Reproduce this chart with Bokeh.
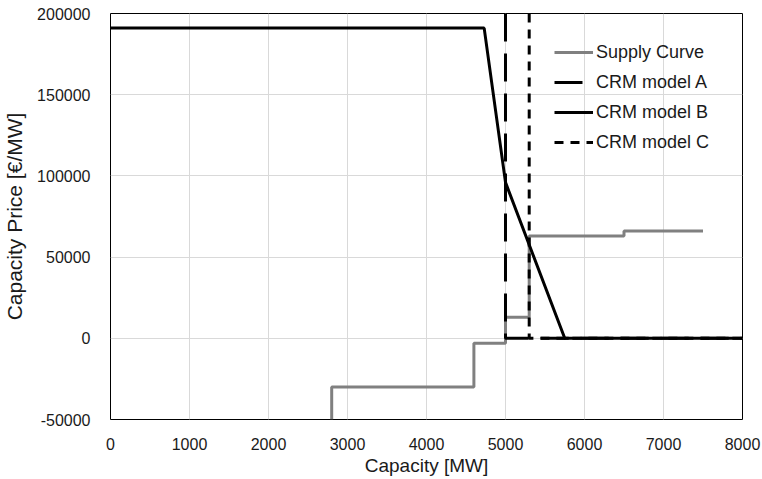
from bokeh.plotting import figure
from bokeh.models import Range1d, FixedTicker, NumeralTickFormatter, Legend, LegendItem
from bokeh.embed import file_html
from bokeh.resources import INLINE

# Supply curve breakpoints (capacity in MW, price in EUR/MW)
supply_x = [2800, 2800, 4600, 4600, 5000, 5000, 5300, 5300, 6500, 6500, 7500]
supply_y = [-50000, -30000, -30000, -3000, -3000, 13000, 13000, 63000, 63000, 66000, 66000]

# CRM demand curves
crm_a_x = [5000, 5000, 8000]
crm_a_y = [200000, 0, 0]

crm_b_x = [0, 4730, 5000, 5750, 8000]
crm_b_y = [191000, 191000, 96000, 0, 0]

crm_c_x = [5300, 5300, 8000]
crm_c_y = [200000, 0, 0]

x_ticks = [0, 1000, 2000, 3000, 4000, 5000, 6000, 7000, 8000]
y_ticks = [-50000, 0, 50000, 100000, 150000, 200000]

FONT = "Liberation Sans"
TEXT = "#1a1a1a"

p = figure(width=762, height=479, output_backend="svg", toolbar_location=None,
           x_range=Range1d(0, 8000), y_range=Range1d(-50000, 200000),
           min_border_left=110, min_border_right=20, min_border_top=13, min_border_bottom=60)

p.outline_line_color = "black"
p.outline_line_width = 1
p.background_fill_color = "white"
p.border_fill_color = "white"

for ax in (p.xaxis[0], p.yaxis[0]):
    ax.axis_line_color = None
    ax.major_tick_line_color = None
    ax.minor_tick_line_color = None
    ax.major_label_text_font = FONT
    ax.major_label_text_font_size = "16px"
    ax.major_label_text_color = TEXT
    ax.axis_label_text_font = FONT
    ax.axis_label_text_font_style = "normal"
    ax.axis_label_text_color = TEXT
    ax.formatter = NumeralTickFormatter(format="0")

p.xaxis.ticker = FixedTicker(ticks=x_ticks)
p.yaxis.ticker = FixedTicker(ticks=y_ticks)
p.xaxis.major_label_standoff = 12
p.yaxis.major_label_standoff = 14
p.xaxis.axis_label = "Capacity [MW]"
p.yaxis.axis_label = "Capacity Price [€/MW]"
p.xaxis.axis_label_text_font_size = "19px"
p.yaxis.axis_label_text_font_size = "21px"
p.xaxis.axis_label_standoff = 2
p.yaxis.axis_label_standoff = 8

p.xgrid.ticker = FixedTicker(ticks=x_ticks)
p.ygrid.ticker = FixedTicker(ticks=y_ticks)
p.grid.grid_line_color = "#d9d9d9"
p.grid.grid_line_width = 1

r_supply = p.line(supply_x, supply_y, line_color="#808080", line_width=3)
r_a = p.line(crm_a_x, crm_a_y, line_color="black", line_width=3, line_dash="28 12")
r_b = p.line(crm_b_x, crm_b_y, line_color="black", line_width=3)
r_c = p.line(crm_c_x, crm_c_y, line_color="black", line_width=3, line_dash="9 7")

legend = Legend(items=[
    LegendItem(label="Supply Curve", renderers=[r_supply]),
    LegendItem(label="CRM model A", renderers=[r_a]),
    LegendItem(label="CRM model B", renderers=[r_b]),
    LegendItem(label="CRM model C", renderers=[r_c]),
], location=(444, 262))
legend.padding = 0
legend.margin = 0
legend.spacing = 0
legend.border_line_color = None
legend.background_fill_alpha = 0
legend.glyph_width = 39
legend.glyph_height = 30
legend.label_height = 30
legend.label_standoff = 3
legend.label_text_font = FONT
legend.label_text_font_size = "18px"
legend.label_text_color = TEXT
p.add_layout(legend, "center")

open("out.html", "w").write(file_html(p, INLINE))
